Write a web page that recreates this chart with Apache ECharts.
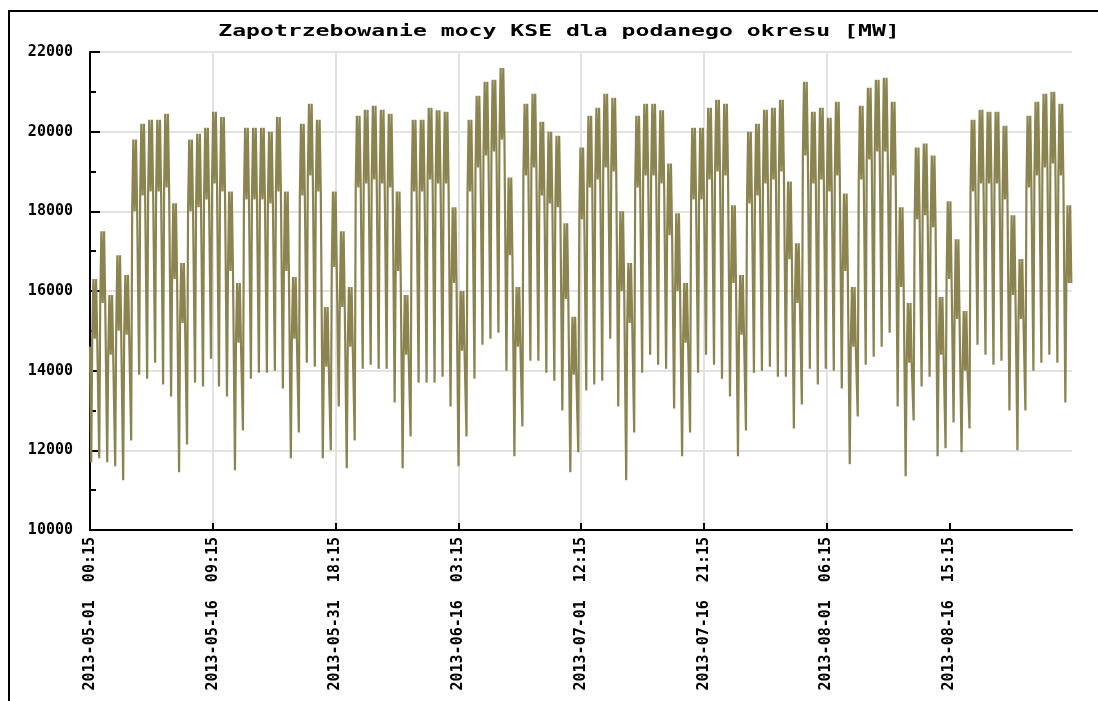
<!DOCTYPE html>
<html><head><meta charset="utf-8">
<script src="https://cdn.jsdelivr.net/npm/echarts@6/dist/echarts.min.js"></script>
<style>html,body{margin:0;padding:0;background:#fff}#c{width:1098px;height:701px}</style>
</head><body><div id="c"></div>
<script>
// Title and axis tick labels
const titleText = 'Zapotrzebowanie mocy KSE dla podanego okresu [MW]';
const xTickLabels = ['2013-05-01  00:15','2013-05-16  09:15','2013-05-31  18:15','2013-06-16  03:15',
  '2013-07-01  12:15','2013-07-16  21:15','2013-08-01  06:15','2013-08-16  15:15'];
const xTickStep = 1476;      // quarter-hours between labelled ticks
const lastIndex = 11807;     // 2013-09-01 00:00 (index 0 = 2013-05-01 00:15)

// Daily readings (one entry per day, 2013-05-01 .. 2013-08-31), MW
const dailyHigh = [16300,17500,15900,16900,16400,19800,20200,20300,20300,20450,
  18200,16700,19800,19950,20100,20500,20370,18500,16200,20100,
  20100,20100,20000,20370,18500,16350,20200,20700,20300,15600,
  18500,17500,16100,20400,20550,20650,20550,20450,18500,15900,
  20300,20300,20600,20540,20500,18100,16000,20300,20900,21250,
  21300,21600,18850,16100,20700,20950,20250,20000,19900,17700,
  15350,19600,20400,20600,20950,20850,18000,16700,20400,20700,
  20700,20540,19200,17950,16200,20100,20100,20600,20800,20700,
  18150,16400,20000,20200,20550,20600,20800,18750,17200,21250,
  20500,20600,20350,20750,18450,16100,20650,21100,21300,21350,
  20750,18100,15700,19600,19700,19400,15850,18250,17300,15500,
  20300,20550,20500,20500,20150,17900,16800,20400,20750,20950,
  21000,20700,18150];
const dailyMid = [14800,15700,14400,15000,14900,18000,18400,18500,18500,18600,
  16300,15200,18000,18100,18300,18700,18500,16500,14700,18300,
  18300,18300,18200,18500,16500,14800,18400,18900,18500,14100,
  16600,15600,14600,18600,18700,18800,18700,18600,16500,14400,
  18500,18500,18800,18700,18700,16200,14500,18500,19100,19400,
  19500,19800,16900,14600,18900,19100,18400,18200,18100,15800,
  13900,17800,18600,18800,19100,19000,16000,15200,18600,18900,
  18900,18700,17400,16000,14700,18300,18300,18800,19000,18900,
  16200,14900,18200,18400,18700,18800,19000,16800,15700,19400,
  18700,18800,18500,18900,16500,14600,18800,19300,19500,19500,
  18900,16100,14200,17800,17900,17600,14400,16300,15300,14000,
  18500,18700,18700,18700,18300,15900,15300,18600,18900,19100,
  19200,18900,16200];
const dailyLow = [11700,11800,11700,11600,11250,12250,13900,13800,14200,13650,
  13350,11450,12150,13700,13600,14300,13600,13350,11500,12500,
  13800,13950,13950,14000,13550,11800,12450,14200,14100,11800,
  12000,13100,11550,12250,14050,14150,14050,14050,13200,11550,
  12350,13700,13700,13700,13850,13100,11600,12350,13800,14650,
  14800,14950,14000,11850,12600,14250,14250,13950,13750,13000,
  11450,11950,13500,13650,13750,14800,13100,11250,12450,13950,
  14400,14150,14050,13050,11850,12450,13950,14400,14150,13800,
  13350,11850,12500,13950,14000,14100,13850,13850,12550,13150,
  14050,13650,14050,14000,13550,11650,12850,14150,14350,14600,
  14950,13100,11350,12750,13600,13850,11850,12050,12700,11950,
  12550,14650,14400,14150,14250,13000,12000,13000,14000,14200,
  14400,14200,13200];
const firstValue = 14600;   // 2013-05-01 00:15
const lastValue = 16200;    // 2013-09-01 00:00

// Readings per day are taken at 04:00, 07:00, 10:30, 14:30, 18:30, 22:00
const readSlots = [16, 28, 42, 58, 74, 88];

const data = [[0, firstValue]];
for (let d = 0; d < dailyHigh.length; d++) {
  const vals = [dailyLow[d], dailyMid[d], dailyHigh[d], dailyMid[d], dailyHigh[d], dailyMid[d]];
  readSlots.forEach((q, k) => data.push([d * 96 + q - 1, vals[k]]));
}
data.push([lastIndex, lastValue]);

const tickPositions = xTickLabels.map((_, i) => i * xTickStep);
const monoFont = '"DejaVu Sans Mono", "Liberation Mono", monospace';

const chart = echarts.init(document.getElementById('c'), null, {renderer: 'canvas'});
chart.setOption({
  animation: false,
  backgroundColor: '#ffffff',
  grid: {left: 90, right: 26, top: 52, bottom: 171, containLabel: false},
  graphic: [
    {type: 'rect', silent: true, z: 0,
     shape: {x: 9, y: 11, width: 1200, height: 800},
     style: {fill: null, stroke: '#000', lineWidth: 2}},
    {type: 'text', silent: true, x: 559, y: 32, scaleX: 1.4, scaleY: 1,
     style: {text: titleText, font: 'bold 16.5px ' + monoFont, fill: '#000',
             align: 'center', verticalAlign: 'middle'}}
  ],
  xAxis: {
    type: 'value', min: 0, max: lastIndex, interval: xTickStep,
    axisLine: {show: true, onZero: false, lineStyle: {color: '#000', width: 2}},
    axisTick: {show: true, inside: true, length: 7, customValues: tickPositions,
               lineStyle: {color: '#000', width: 2}},
    axisLabel: {show: true, rotate: 90, margin: 7, customValues: tickPositions,
                fontFamily: monoFont, fontWeight: 'bold', fontSize: 15, color: '#000',
                formatter: v => xTickLabels[Math.round(v / xTickStep)] || ''},
    splitLine: {show: true, showMaxLine: false, lineStyle: {color: '#e2e2e2', width: 2}}
  },
  yAxis: {
    type: 'value', min: 10000, max: 22000, interval: 2000,
    axisLine: {show: true, lineStyle: {color: '#000', width: 2}},
    axisTick: {show: true, inside: true, length: 10, lineStyle: {color: '#000', width: 2}},
    minorTick: {show: true, splitNumber: 2, length: 6, lineStyle: {color: '#000', width: 2}},
    axisLabel: {margin: 17, fontFamily: monoFont, fontWeight: 'bold', fontSize: 15, color: '#000',
                formatter: v => String(v)},
    splitLine: {show: true, lineStyle: {color: '#e2e2e2', width: 2}}
  },
  series: [{
    type: 'line', data: data, showSymbol: false, symbol: 'none', sampling: null,
    lineStyle: {color: '#8b8450', width: 2.2}, z: 3
  }]
});
</script></body></html>
